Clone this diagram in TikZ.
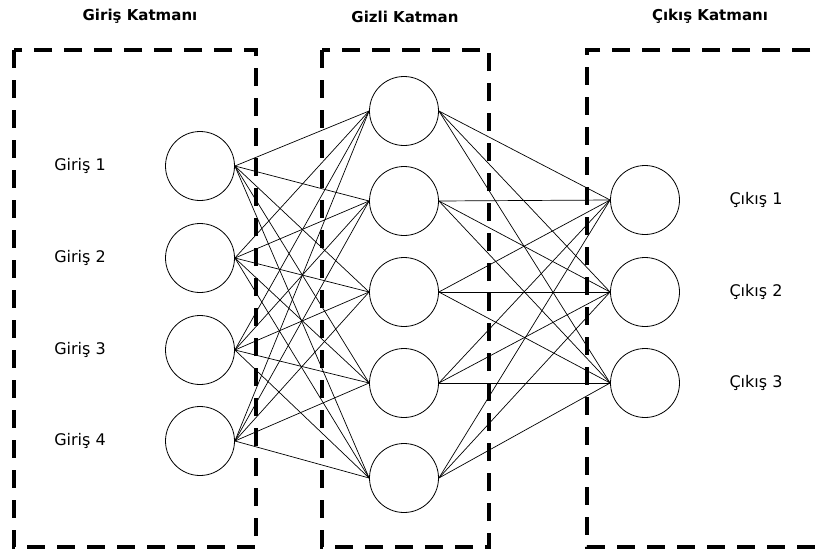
\documentclass[tikz,border=0pt]{standalone}
\usepackage{fontspec}
\setmainfont{DejaVu Sans}
\begin{document}
\begin{tikzpicture}[x=1pt,y=-1pt,
  neuron/.style={circle,draw,line width=0.8pt,minimum size=69pt,inner sep=0pt},
  layerbox/.style={line width=3.8pt,dash pattern=on 18pt off 12pt},
  conn/.style={line width=0.7pt},
  lbl/.style={font=\fontsize{16}{19}\selectfont},
  head/.style={font=\bfseries\fontsize{15}{18}\selectfont,anchor=base}]
\useasboundingbox (0,0) rectangle (822,554);
\fill[white] (0,0) rectangle (822,554);
% layer boxes
\draw[layerbox] (14,50) rectangle (256,547);
\draw[layerbox] (322,50) rectangle (489,547);
\draw[layerbox] (840,50) -- (587,50) -- (587,547) -- (840,547);
% headings
\node[head] (h1) at (140,20) {Giriş Katmanı};
\node[head] (h2) at (405,22) {Gizli Katman};
\node[head] (h3) at (710,20) {Çıkış Katmanı};
% neurons
\foreach \y [count=\i] in {166,258,350,441}
  \node[neuron] (in\i) at (200,\y) {};
\foreach \y [count=\i] in {111,201,292,383,478}
  \node[neuron] (hid\i) at (404,\y) {};
\foreach \y [count=\i] in {200,292,383}
  \node[neuron] (out\i) at (645,\y) {};
% labels
\foreach \y [count=\i] in {166,258,350,441}
  \node[lbl] (lin\i) at (80,\y) {Giriş \i};
\foreach \y [count=\i] in {200,292,383}
  \node[lbl] (lout\i) at (756,\y) {Çıkış \i};
% connections
\foreach \i in {1,...,4}
  \foreach \j in {1,...,5}
    \draw[conn] (in\i.east) -- (hid\j.west);
\foreach \j in {1,...,5}
  \foreach \k in {1,...,3}
    \draw[conn] (hid\j.east) -- (out\k.west);
\end{tikzpicture}
\end{document}
